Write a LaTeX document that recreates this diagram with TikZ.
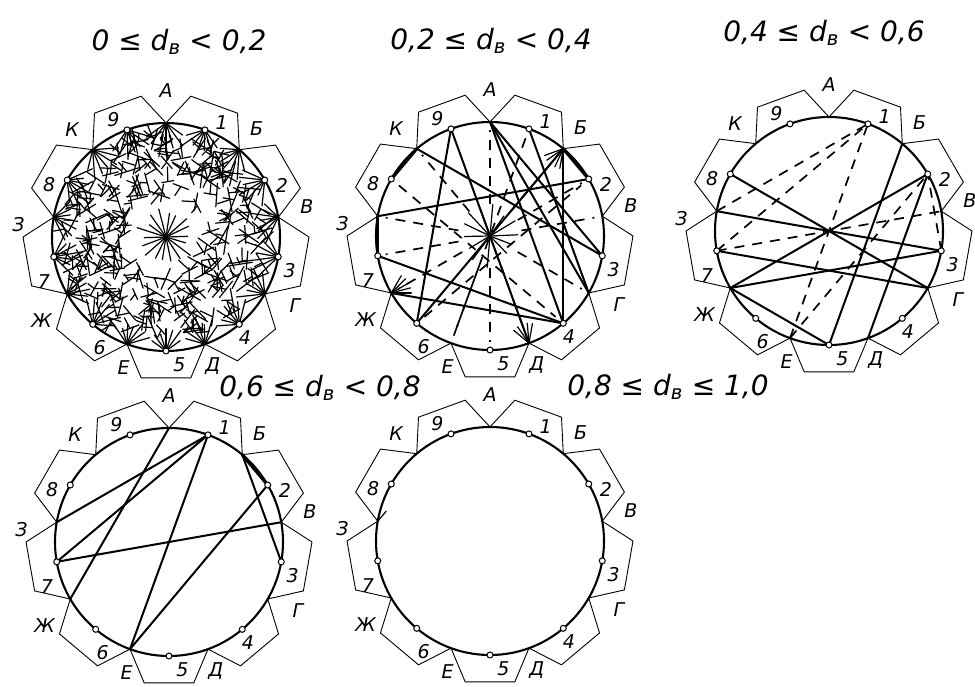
\documentclass[tikz,border=0pt]{standalone}
\usepackage{fontspec}
\setmainfont{DejaVu Sans}
\usetikzlibrary{calc}

\tikzset{
  ring/.style={line width=2.1pt},
  tabline/.style={line width=0.9pt, line join=miter},
  chord/.style={line width=2pt, line cap=round},
  thickchord/.style={line width=3.2pt, line cap=round},
  dchord/.style={line width=1.7pt, dash pattern=on 10pt off 8pt},
  burst/.style={line width=1.2pt, line cap=round},
  pin/.style={circle, draw, line width=1pt, fill=white, inner sep=0pt, minimum size=6pt},
  lbl/.style={font=\fontsize{19}{19}\selectfont\itshape, inner sep=0pt},
  ttl/.style={font=\fontsize{28}{28}\selectfont\itshape, inner sep=0pt},
}

\newcommand\dialframe[3]{%
  \begin{scope}[shift={(#2,#3)},yscale=-1]
    \foreach \cc in {70,30,-10,-50,-90,-130,-170,150,110}
      \draw[tabline] ({\cc+20}:114) -- ({\cc+10}:143) -- ({\cc-10}:143) -- ({\cc-20}:114);
    \draw[ring] (0,0) circle[radius=114pt];
    \coordinate (#1-O) at (0,0);
    \foreach \ang/\nm in {90/A,50/B,10/V,-30/G,-70/D,-110/E,-150/Zh,170/Z,130/K,70/n1,30/n2,-10/n3,-50/n4,-90/n5,-130/n6,-170/n7,150/n8,110/n9}
      \coordinate (#1-\nm) at (\ang:114);
    \foreach \ang/\rr/\nm/\tx in {64/127/n1/1,24/127/n2/2,-15/128/n3/3,-52/128/n4/4,-84/128/n5/5,-121/129/n6/6,-160/130/n7/7,156/128/n8/8,114/129/n9/9,90/146/A/А,50/141/B/Б,12/144/V/В,-28/146/G/Г,-70/137/D/Д,-108/137/E/Е,-146/150/Zh/Ж,175/148/Z/З,131/143/K/К}
      \node[lbl] (#1-t\nm) at (\ang:\rr) {\tx};
  \end{scope}}

\newcommand\dialpins[1]{%
  \foreach \nm in {n1,n2,n3,n4,n5,n6,n7,n8,n9}
    \node[pin] (#1-p\nm) at (#1-\nm) {};}

\begin{document}
\begin{tikzpicture}[x=1pt,y=-1pt]
\fill[white] (0,0) rectangle (975,686);
\useasboundingbox (0,0) rectangle (975,686);

% titles
\node[ttl] (t1) at (179,42) {0 ≤ d\textsubscript{в} < 0,2};
\node[ttl] (t2) at (491,41) {0,2 ≤ d\textsubscript{в} < 0,4};
\node[ttl] (t3) at (824,33) {0,4 ≤ d\textsubscript{в} < 0,6};
\node[ttl] (t4) at (320,388) {0,6 ≤ d\textsubscript{в} < 0,8};
\node[ttl] (t5) at (668,387) {0,8 ≤ d\textsubscript{в} ≤ 1,0};

% frames
\dialframe{p1}{166}{237}
\dialframe{p2}{490}{236}
\dialframe{p3}{829}{231}
\dialframe{p4}{169}{542}
\dialframe{p5}{490}{541}

% ---------- diagram 1: dense hatching ----------
\begin{scope}[shift={(166,237)},yscale=-1]
  \pgfmathsetseed{7}
  \foreach \i in {1,...,250}{
    \pgfmathsetmacro{\pa}{360*rnd}
    \pgfmathsetmacro{\pr}{sqrt(0.12+0.68*rnd)*114}
    \pgfmathsetmacro{\da}{180*rnd}
    \pgfmathsetmacro{\la}{6+7*rnd}
    \pgfmathsetmacro{\db}{\da+60+60*rnd}
    \pgfmathsetmacro{\lb}{7+8*rnd}
    \draw[burst] ($(\pa:\pr)+(\da:\la)$) -- ($(\pa:\pr)+({\da+180}:\la)$);
    \draw[burst] (\pa:\pr) -- ++(\db:\lb);
  }
  \foreach \ang in {90,70,50,30,10,-10,-30,-50,-70,-90,-110,-130,-150,-170,170,150,130,110}{
    \foreach \k in {-3,...,3}{
      \pgfmathsetmacro{\ln}{16+14*rnd}
      \draw[burst] (\ang:114) -- ++({\ang+180+\k*18}:\ln);
    }
  }
  \foreach \k in {0,...,17}{
    \pgfmathsetmacro{\ln}{20+12*rnd}
    \pgfmathsetmacro{\aa}{\k*20+6*rnd}
    \draw[burst] (0,0) -- (\aa:\ln);
  }
\end{scope}

% ---------- diagram 2 ----------
\begin{scope}[shift={(490,236)},yscale=-1]
  \foreach \k in {0,...,13}{
    \pgfmathsetmacro{\ln}{22+10*rnd}
    \pgfmathsetmacro{\aa}{\k*25.7+8*rnd}
    \draw[burst] (0,0) -- (\aa:\ln);
  }
  \foreach \ang in {-150,-70,50}{
    \foreach \k in {-2,...,2}{
      \draw[burst] (\ang:114) -- ++({\ang+180+\k*15}:20);
    }
  }
\end{scope}
\foreach \nm in {A,B,V,G,D,E,Zh,Z,K,n7,n5,n2}
  \draw[dchord, shorten <=32pt, shorten >=8pt] (p2-O) -- (p2-\nm);
\draw[dchord, shorten <=10pt, shorten >=10pt] (p2-n8) -- (p2-n4);
\draw[dchord, shorten <=10pt, shorten >=10pt] (p2-n6) -- (p2-n2);
\draw[dchord, shorten <=10pt, shorten >=10pt] (p2-E) -- (p2-n1);
\draw[chord] (p2-n9) -- (p2-n6);
\draw[chord] (p2-n9) -- (p2-D);
\draw[chord] (p2-A) -- (p2-n4);
\draw[chord] (p2-A) -- (p2-n3);
\draw[chord] (p2-A) -- (p2-G);
\draw[chord] (p2-n1) -- (p2-G);
\draw[chord] (p2-B) -- (p2-n4);
\draw[chord] (p2-K) -- (p2-n3);
\draw[chord] (p2-Z) -- (p2-n2);
\draw[chord] (p2-n7) -- (p2-n4);
\draw[chord] (p2-Zh) -- (p2-n4);
\draw[chord] (p2-B) -- (p2-n6);
\draw[thickchord] (p2-K) -- (p2-n8);
\draw[thickchord] (p2-Z) -- (p2-n7);
\draw[thickchord] (p2-B) -- (p2-n2);

% ---------- diagram 3 ----------
\draw[chord] (p3-n8) -- (p3-G);
\draw[chord] (p3-Z) -- (p3-n3);
\draw[chord] (p3-n7) -- (p3-G);
\draw[chord] (p3-Zh) -- (p3-n2);
\draw[chord] (p3-Zh) -- (p3-n3);
\draw[chord] (p3-Zh) -- (p3-n5);
\draw[chord] (p3-B) -- (p3-n5);
\draw[chord] (p3-n2) -- (p3-D);
\draw[dchord] (p3-Z) -- (p3-n1);
\draw[dchord] (p3-n7) -- (p3-n1);
\draw[dchord] (p3-E) -- (p3-n1);
\draw[dchord] (p3-E) -- (p3-n2);
\draw[dchord] (p3-n7) -- (p3-V);
\draw[dchord] (p3-n3) -- (p3-n2);

% ---------- diagram 4 ----------
\draw[chord] (p4-A) -- (p4-Zh);
\draw[chord] (p4-n1) -- (p4-n7);
\draw[chord] (p4-n1) -- (p4-Z);
\draw[chord] (p4-n1) -- (p4-E);
\draw[chord] (p4-n2) -- (p4-E);
\draw[chord] (p4-n7) -- (p4-V);
\draw[chord] (p4-B) -- (p4-n3);
\draw[thickchord] (p4-B) -- (p4-n2);

% ---------- diagram 5 ----------
\begin{scope}[shift={(490,541)},yscale=-1]
  \coordinate (p5-zt) at (164:108);
\end{scope}
\draw[burst] (p5-Z) -- (p5-zt);

% pins
\dialpins{p1}
\dialpins{p2}
\dialpins{p3}
\dialpins{p4}
\dialpins{p5}
\end{tikzpicture}
\end{document}
